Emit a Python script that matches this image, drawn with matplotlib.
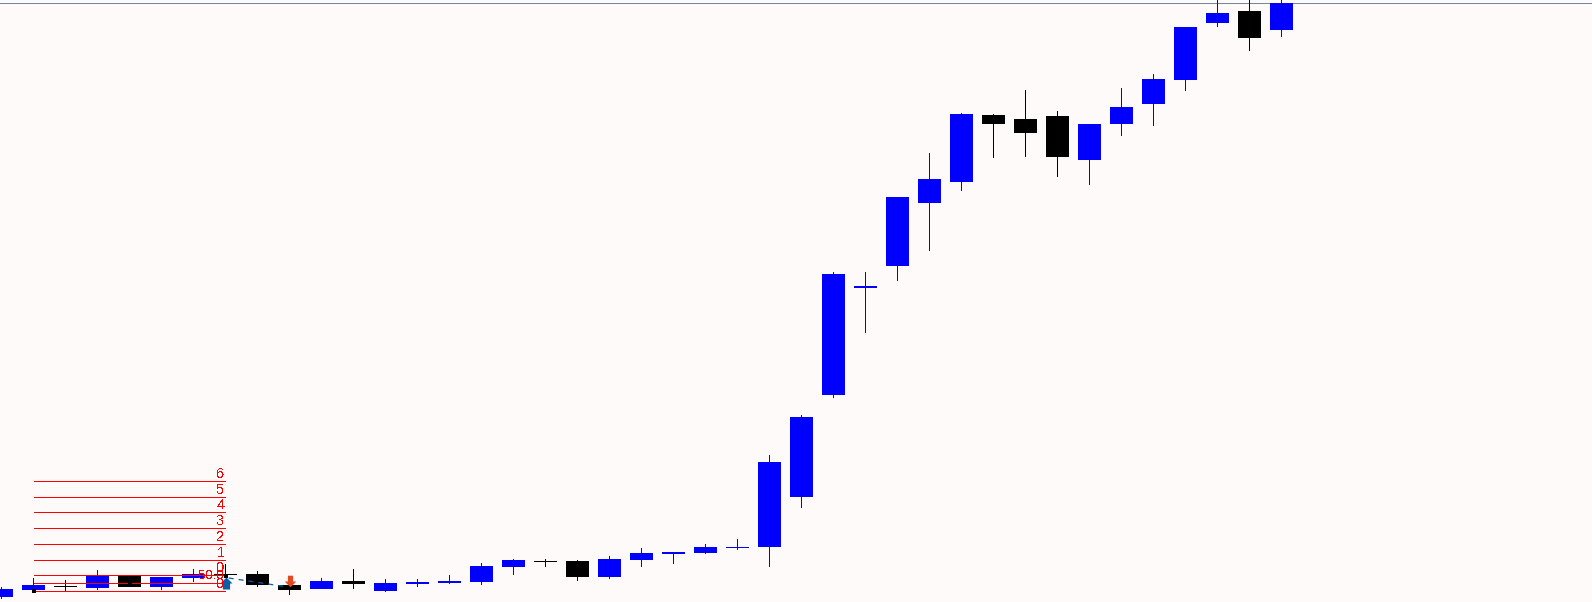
import matplotlib
matplotlib.use("Agg")
import matplotlib.pyplot as plt
from matplotlib.path import Path

plt.rcParams['text.antialiased'] = False

# chart has no price axis, values are read off the picture (height above bottom edge)
body_top = [13, 17, 16, 26, 26, 25, 28, 28, 28, 17, 21, 21, 19, 20, 21, 36, 42, 41, 41, 43, 49, 50, 55, 55,
            140, 185, 328, 316, 405, 423, 488, 487, 483, 486, 478, 495, 523, 575, 589, 591, 599]
body_bot = [5, 12, 15, 14, 15, 15, 24, 27, 17, 12, 13, 18, 11, 18, 19, 20, 35, 40, 25, 25, 42, 48, 49, 54,
            55, 105, 207, 314, 336, 399, 420, 478, 469, 445, 442, 478, 498, 522, 579, 564, 572]
high = [15, 24, 22, 32, 27, 25, 33, 38, 31, 17, 24, 33, 23, 23, 27, 39, 43, 43, 42, 46, 54, 50, 58, 63,
        147, 187, 330, 330, 405, 449, 489, 488, 512, 491, 478, 514, 528, 575, 610, 610, 610]
low = [3, 11, 11, 12, 15, 12, 20, 24, 15, 7, 13, 13, 10, 15, 18, 17, 27, 35, 21, 23, 35, 38, 48, 52,
       35, 94, 204, 269, 321, 351, 411, 444, 445, 425, 417, 466, 476, 511, 575, 551, 565]
colors = ["b", "b", "k", "b", "k", "b", "b", "k", "k", "k", "b", "k", "b", "b", "b", "b", "b", "k", "k", "b",
          "b", "b", "b", "b", "b", "b", "b", "b", "b", "b", "b", "k", "k", "k", "b", "b", "b", "b", "b", "k", "b"]

level_prices = [120.5, 104.5, 89.5, 73.5, 57.5, 41.5, 26.5, 18.5, 10.5]
level_labels = ["6", "5", "4", "3", "2", "1", "0", "0"]
level_label_y = [128, 112, 97, 81, 65, 49, 34, 18]
top_line = 598.5

square_x = [1, 4, 7]
square_y = [11, 19, 26]

fig = plt.figure(figsize=(15.92, 6.02), dpi=100, facecolor="#FFFAFA")
ax = fig.add_axes([0, 0, 1, 1])
ax.set_facecolor("#FFFAFA")
ax.set_xlim(-1.5 / 32, 1590.5 / 32)
ax.set_ylim(0, 602)
ax.axis("off")

ax.barh(top_line, 1592 / 32, height=1, left=-1.5 / 32, color="#778899", linewidth=0, antialiased=False, zorder=1)

palette = {"b": "#0000FF", "k": "#000000"}
for i in range(len(colors)):
    c = palette[colors[i]]
    ax.bar(i, high[i] - low[i], width=1 / 32, bottom=low[i], color=c, linewidth=0, antialiased=False, zorder=2)
    ax.bar(i, body_top[i] - body_bot[i], width=23 / 32, bottom=body_bot[i], color=c,
           linewidth=0, antialiased=False, zorder=3)

# fibo levels
ax.barh(level_prices, 6, height=1, left=1, color="#FF0000", linewidth=0, antialiased=False, zorder=4)
for y, s in zip(level_label_y, level_labels):
    ax.text(6.97, y, s, color="#FF0000", fontsize=10.5, family="Liberation Sans",
            ha="right", va="center", zorder=7)
ax.text(6.95, 26, "50.0", color="#FF0000", fontsize=9.5, family="Liberation Sans",
        ha="right", va="center", zorder=7)

# trade markers
ax.plot([7.1, 8.95], [24, 15], color="#0A5FA8", lw=0.9, ls=(0, (4, 4)), zorder=5)
ax.plot(square_x, square_y, ls="none", marker="s", ms=2.9, color="k", mew=0, zorder=5)
up = Path([(0, 1), (1, 0), (0.6, 0), (0.6, -1), (-0.6, -1), (-0.6, 0), (-1, 0), (0, 1)])
down = Path([(0, -1), (1, 0), (0.45, 0), (0.45, 1), (-0.45, 1), (-0.45, 0), (-1, 0), (0, -1)])
ax.scatter([7.03], [19], marker=up, s=75, color="#0A5FA8", linewidth=0, zorder=6)
ax.scatter([9], [21], marker=down, s=70, color="#E04A1E", linewidth=0, zorder=6)

fig.savefig("out.png", dpi=100, facecolor=fig.get_facecolor())
